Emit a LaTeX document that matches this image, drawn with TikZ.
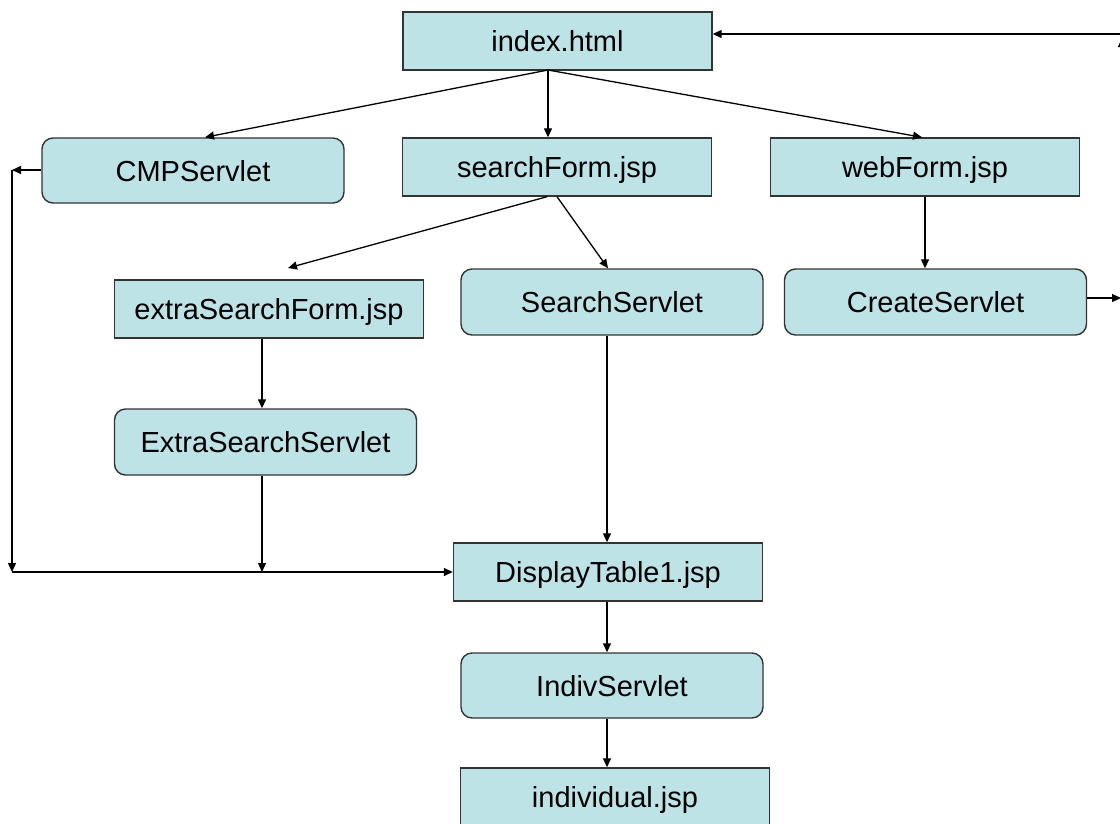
\documentclass[tikz,border=0pt]{standalone}
\usepackage{fontspec}
\setmainfont{Liberation Sans}
\usetikzlibrary{arrows.meta}
\definecolor{boxfill}{HTML}{BEE3E6}
\definecolor{boxline}{HTML}{333333}
\tikzset{
  base/.style={draw=boxline, line width=1.4pt, fill=boxfill, inner sep=0pt,
    font=\fontsize{29}{34}\selectfont, anchor=center, text depth=0pt},
  sq/.style={base, minimum width=309pt, minimum height=58pt},
  rd/.style={base, rounded corners=11pt, minimum width=302pt, minimum height=66pt},
  conn/.style={draw=black, line width=1.3pt, -{Triangle[length=9pt,width=8pt]}},
  plain/.style={draw=black, line width=1.3pt}
}
\begin{document}
\begin{tikzpicture}[x=1pt,y=-1pt]
\useasboundingbox (0,0) rectangle (1120,823);
\clip (0,0) rectangle (1120,823);
\node[sq] (index) at (557.5,41) {index.html};
\node[rd, minimum height=65pt] (cmp) at (193,170.5) {CMPServlet};
\node[sq] (sform) at (557,167) {searchForm.jsp};
\node[sq] (wform) at (925,167) {webForm.jsp};
\node[sq] (esform) at (269,309) {extraSearchForm.jsp};
\node[rd] (ss) at (612,302) {SearchServlet};
\node[rd] (cs) at (935.5,302) {CreateServlet};
\node[rd] (ess) at (265.5,442) {ExtraSearchServlet};
\node[sq] (dt) at (608,572) {DisplayTable1.jsp};
\node[rd, minimum height=65pt] (is) at (612,685.5) {IndivServlet};
\node[sq] (ind) at (615,797) {individual.jsp};

\coordinate (iS) at (548,70);
\coordinate (esTop) at (288,268);
\coordinate (left) at (12,170);
\coordinate (join) at (12,572);
\coordinate (mid) at (262,572);
\coordinate (outR) at (1121,298);
\coordinate (inR) at (1125,34);
\coordinate (upB) at (1122,90);
\coordinate (upT) at (1122,38);

\draw[conn] (iS) -- (cmp.north -| 205,0);
\draw[conn] (iS) -- (sform.north -| iS);
\draw[conn] (iS) -- (wform.north -| 922,0);
\draw[conn] (sform.south -| 547,0) -- (esTop);
\draw[conn] (sform.south -| 557,0) -- (ss.north -| 608,0);
\draw[conn] (wform.south -| 925,0) -- (cs.north -| 925,0);
\draw[conn] (esform.south -| 262,0) -- (ess.north -| 262,0);
\draw[conn] (ss.south -| 607,0) -- (dt.north -| 607,0);
\draw[conn] (ess.south -| mid) -- (mid);
\draw[conn] (cmp.west |- left) -- (left);
\draw[conn] (left) -- (join);
\draw[conn] (join) -- (dt.west);
\draw[conn] (dt.south -| 607,0) -- (is.north -| 607,0);
\draw[conn] (is.south -| 607,0) -- (ind.north -| 607,0);
\draw[conn] (cs.east |- outR) -- (outR);
\draw[conn] (inR) -- (index.east |- inR);
\draw[conn] (upB) -- (upT);
\end{tikzpicture}
\end{document}
